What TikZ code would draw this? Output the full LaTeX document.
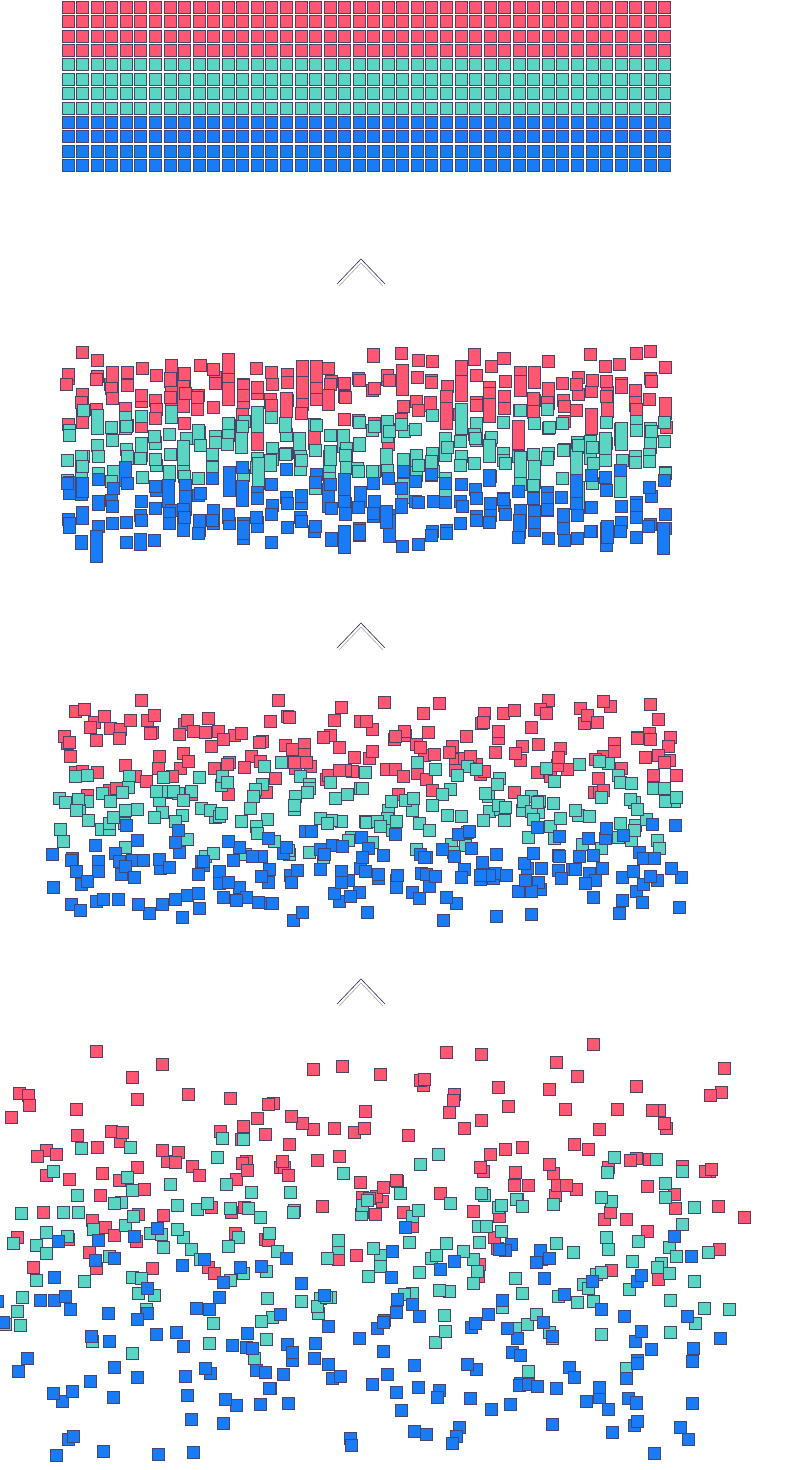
\documentclass[tikz,border=0pt]{standalone}
\definecolor{colA}{HTML}{FF5672}
\definecolor{colB}{HTML}{5AD5C1}
\definecolor{colC}{HTML}{1A7BF7}
\definecolor{edge}{HTML}{2A2350}
\tikzset{
	sq/.style={line width=0.6pt, draw=edge!85},
	chev/.style={line width=0.6pt, draw=edge},
	chevgray/.style={line width=0.6pt, draw=gray!70}
}
% one stage of squares: y0, pitch, x jitter, y jitter, x scale, stretch
\newcommand\stagesq[6]{
	\foreach \r in {0,...,11}{
		\foreach \c in {0,...,41}{
			\pgfmathtruncatemacro\k{\r/4}
			\pgfmathsetmacro\xx{365+(62+14.55*\c-365)*#5+#3*rand}
			\pgfmathsetmacro\yy{#1+#2*\r+#4*rand}
			\pgfmathsetmacro\hh{12+max(0,rnd-0.7)*#6}
			\ifcase\k\def\cc{colA}\or\def\cc{colB}\else\def\cc{colC}\fi
			\fill[sq, fill=\cc] (\xx,\yy) rectangle ++(12,\hh);
		}
	}
}
\begin{document}
\begin{tikzpicture}[x=1pt, y=-1pt]
	\useasboundingbox (0,0) rectangle (799,1470);
	\pgfmathsetseed{11}
	% top: the grid
	\stagesq{1}{14.4}{0}{0}{1}{0}
	% chevrons
	\foreach \yc in {259,623,979}{
		\draw[chevgray] (339,\yc+27) -- (361,\yc+4) -- (383,\yc+27);
		\draw[chev] (337,\yc+25) -- (361,\yc) -- (385,\yc+25);
	}
	% shaken
	\stagesq{362}{14.6}{1.5}{18}{1}{70}
	% spread
	\stagesq{718}{15.5}{14}{26}{1.02}{0}
	% scattered
	\stagesq{1120}{23}{45}{85}{1.16}{0}
\end{tikzpicture}
\end{document}
